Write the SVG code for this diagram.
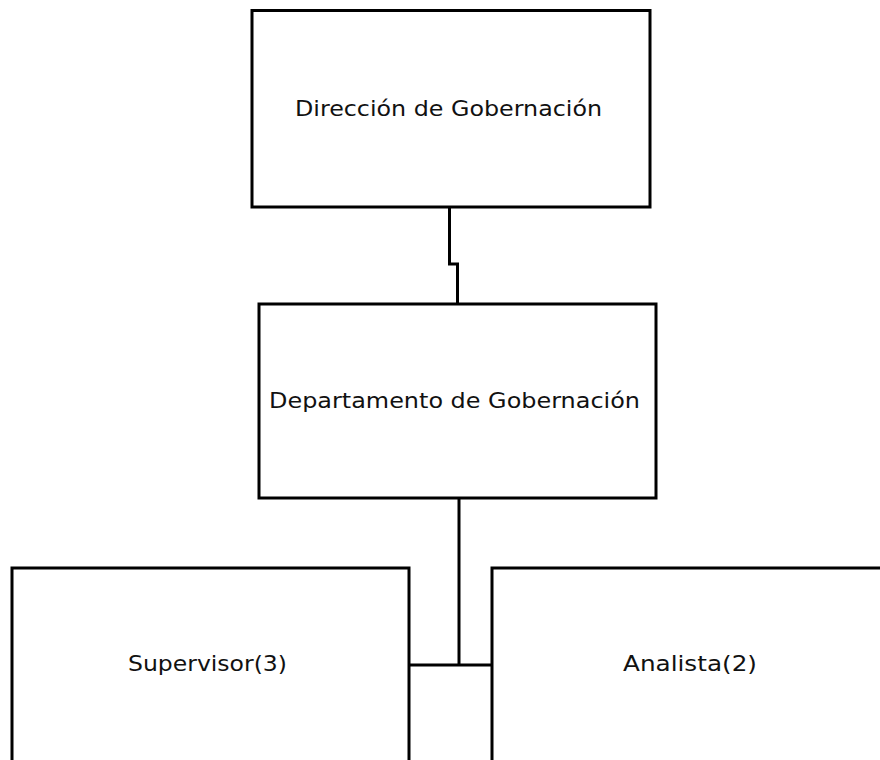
<svg xmlns="http://www.w3.org/2000/svg" width="880" height="760" viewBox="0 0 880 760">
<style>
.box{fill:#fff;stroke:#000;stroke-width:3}
.lbl{font-family:"DejaVu Sans","Liberation Sans",sans-serif;font-size:22px;fill:#111;text-anchor:middle}
.con{fill:none;stroke:#000;stroke-width:3}
</style>
<rect x="0" y="0" width="880" height="760" fill="#fff"/>
<g id="connectors">
<path class="con" d="M449.5 207 V264 H457.5 V304"/>
<path class="con" d="M459 498 V665"/>
<path class="con" d="M409 665 H492"/>
</g>
<g id="direccion">
<rect class="box" x="252" y="10.5" width="398" height="196.5"/>
<text class="lbl" x="448.5" y="116" textLength="307" lengthAdjust="spacingAndGlyphs">Dirección de Gobernación</text>
</g>
<g id="departamento">
<rect class="box" x="259" y="304" width="397" height="194"/>
<text class="lbl" x="454.5" y="408" textLength="371" lengthAdjust="spacingAndGlyphs">Departamento de Gobernación</text>
</g>
<g id="supervisor">
<rect class="box" x="12" y="568" width="397" height="220"/>
<text class="lbl" x="207.5" y="671" textLength="159" lengthAdjust="spacingAndGlyphs">Supervisor(3)</text>
</g>
<g id="analista">
<rect class="box" x="492" y="568" width="420" height="220"/>
<text class="lbl" x="690" y="671" textLength="134" lengthAdjust="spacingAndGlyphs">Analista(2)</text>
</g>
</svg>
